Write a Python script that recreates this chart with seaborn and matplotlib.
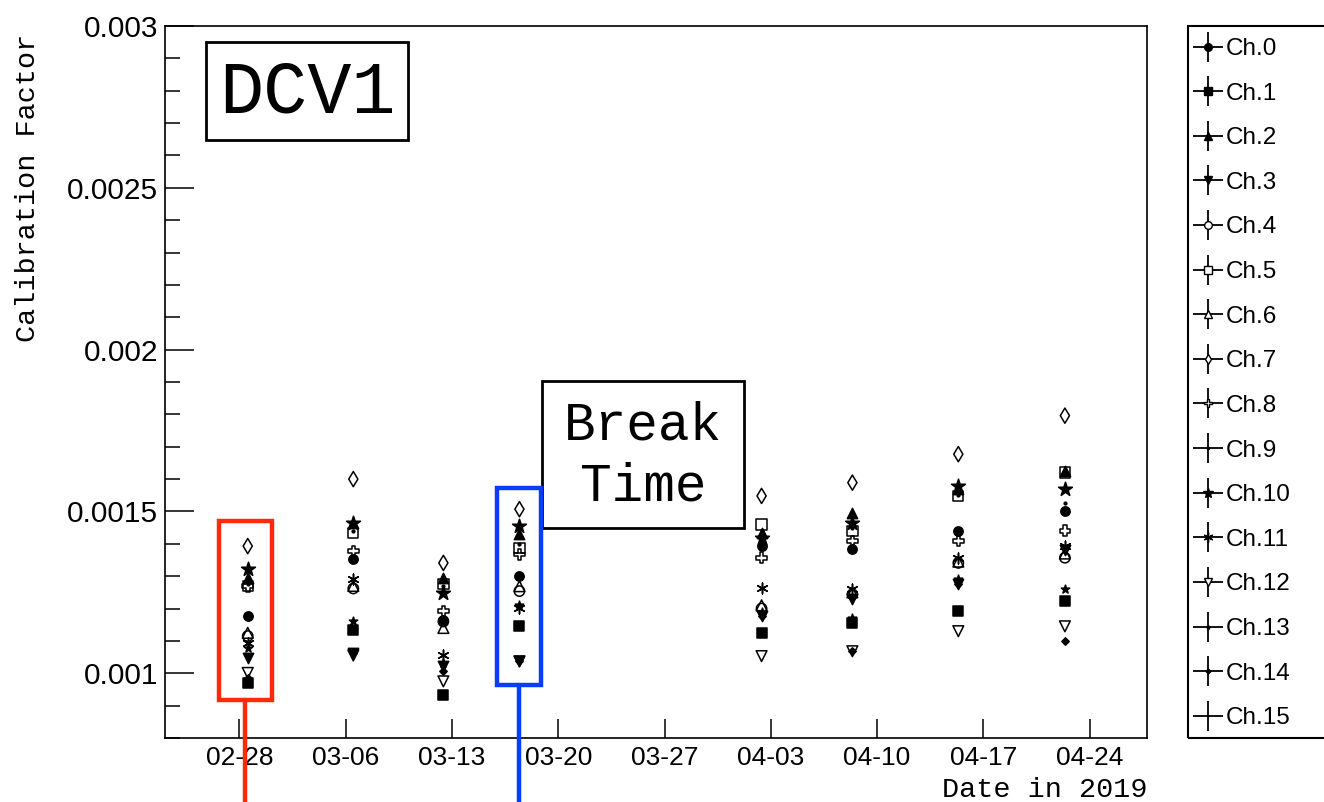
import numpy as np
import pandas as pd
import matplotlib
matplotlib.use("Agg")
import matplotlib.pyplot as plt
import matplotlib.dates as mdates
from matplotlib.lines import Line2D
from matplotlib.patches import Rectangle
from matplotlib.ticker import MultipleLocator, FuncFormatter, FixedLocator
from matplotlib.legend_handler import HandlerTuple
import seaborn as sns

# ---- measurement dates ----
dates = pd.to_datetime([
    "2019-02-28 13:40", "2019-03-07 11:20", "2019-03-13 08:40", "2019-03-18 08:00",
    "2019-04-03 04:00", "2019-04-09 02:30", "2019-04-16 00:45", "2019-04-23 00:00",
])

# ---- calibration factors per channel (one value per date) ----
ch00 = [0.001176, 0.001352, 0.001166, 0.001300, 0.001393, 0.001383, 0.001440, 0.001502]
ch01 = [0.000970, 0.001135, 0.000934, 0.001145, 0.001125, 0.001156, 0.001192, 0.001223]
ch02 = [0.001295, 0.001465, 0.001295, 0.001429, 0.001434, 0.001496, 0.001570, 0.001625]
ch03 = [0.001047, 0.001063, 0.001022, 0.001037, 0.001176, 0.001230, 0.001275, 0.001380]
ch04 = [0.001115, 0.001262, 0.001160, 0.001254, 0.001200, 0.001244, 0.001341, 0.001357]
ch05 = [0.001269, 0.001434, 0.001275, 0.001388, 0.001460, 0.001440, 0.001548, 0.001620]
ch06 = [0.001125, 0.001270, 0.001140, 0.001269, 0.001210, 0.001250, 0.001345, 0.001370]
ch07 = [0.001393, 0.001600, 0.001341, 0.001507, 0.001548, 0.001589, 0.001677, 0.001796]
ch08 = [0.001269, 0.001378, 0.001192, 0.001367, 0.001357, 0.001409, 0.001409, 0.001440]
ch09 = [0.001275, 0.001440, 0.001270, 0.001400, 0.001440, 0.001450, 0.001550, 0.001527]
ch10 = [0.001321, 0.001465, 0.001249, 0.001455, 0.001419, 0.001465, 0.001579, 0.001569]
ch11 = [0.001094, 0.001290, 0.001058, 0.001202, 0.001264, 0.001259, 0.001357, 0.001393]
ch12 = [0.001001, 0.001055, 0.000975, 0.001037, 0.001053, 0.001068, 0.001130, 0.001145]
ch13 = [0.001078, 0.001161, 0.001032, 0.001210, 0.001190, 0.001171, 0.001290, 0.001259]
ch14 = [0.000986, 0.001063, 0.001006, 0.001037, 0.001176, 0.001068, 0.001275, 0.001099]
ch15 = [0.001180, 0.001350, 0.001170, 0.001300, 0.001390, 0.001380, 0.001440, 0.001500]

channel_values = [ch00, ch01, ch02, ch03, ch04, ch05, ch06, ch07,
                  ch08, ch09, ch10, ch11, ch12, ch13, ch14, ch15]
channel_names = [f"Ch.{i}" for i in range(16)]

# time-axis divisions: 8 equal steps starting at the first label
tick_start = pd.Timestamp("2019-02-28 00:30")
tick_step = pd.Timedelta(days=6.95)
n_ticks = 9

# marker, scatter size, filled?, legend marker size
styles = [
    ("o", 45, True, 5.5), ("s", 45, True, 5.5), ("^", 55, True, 5.5), ("v", 55, True, 5.5),
    ("o", 55, False, 5.5), ("s", 55, False, 5.5), ("^", 60, False, 5.5), ("d", 60, False, 5.5),
    ("P", 60, False, 5.5), (".", 15, True, 3), ("*", 110, True, 7), ((6, 2, 0), 60, True, 7),
    ("v", 60, False, 5.5), ("*", 40, True, 3), ("D", 14, True, 2.5), (".", 2, True, 1),
]

df = pd.concat(
    [pd.DataFrame({"date": dates, "value": vals, "channel": name})
     for name, vals in zip(channel_names, channel_values)],
    ignore_index=True,
)

sns.set_style("white")
plt.rcParams["font.family"] = ["Liberation Sans", "DejaVu Sans"]
for key in ("text.color", "axes.labelcolor", "xtick.color", "ytick.color", "axes.edgecolor"):
    plt.rcParams[key] = "black"

W, H = 1324, 802
fig = plt.figure(figsize=(W / 100, H / 100), dpi=100)
ax = fig.add_axes([165 / W, 1 - 738 / H, (1147 - 165) / W, (738 - 26) / H])

for name, (mk, size, filled, _) in zip(channel_names, styles):
    sub = df[df["channel"] == name]
    sns.scatterplot(data=sub, x="date", y="value", marker=mk, s=size,
                    color="black", edgecolor="black", linewidth=1.1,
                    legend=False, ax=ax, zorder=3)
    if not filled:
        ax.collections[-1].set_facecolor("none")

# axes styling
ax.set_xlim(pd.Timestamp("2019-02-23 03:50"), pd.Timestamp("2019-04-28 08:50"))
ax.set_ylim(0.0008, 0.003)
ax.set_xlabel("")
ax.set_ylabel("")
for sp in ax.spines.values():
    sp.set_linewidth(1.2)
    sp.set_color("black")

tick_times = [tick_start + i * tick_step for i in range(n_ticks)]
ax.xaxis.set_major_locator(FixedLocator(mdates.date2num(tick_times)))
ax.xaxis.set_major_formatter(mdates.DateFormatter("%m-%d"))
ax.yaxis.set_major_locator(MultipleLocator(0.0005))
ax.yaxis.set_minor_locator(MultipleLocator(0.0001))
ax.yaxis.set_major_formatter(FuncFormatter(lambda v, p: f"{v:g}"))

ax.tick_params(axis="y", which="major", direction="in", length=21, width=1.1,
               left=True, right=False, labelsize=21.5, pad=5)
ax.tick_params(axis="y", which="minor", direction="in", length=10.5, width=1.1,
               left=True, right=False)
ax.tick_params(axis="x", which="major", direction="in", length=14, width=1.1,
               bottom=True, top=False, labelsize=19, pad=6)
ax.tick_params(axis="x", which="minor", bottom=False, top=False)

mono = "Liberation Mono"
fig.text(28 / W, 1 - 34 / H, "Calibration Factor", rotation=90, ha="center", va="top",
         fontsize=20.5, family=mono)
fig.text(1147 / W, 1 - 797 / H, "Date in 2019", ha="right", va="baseline",
         fontsize=20.5, family=mono)


def px_rect(x0, y0, x1, y1, **kw):
    return Rectangle((x0 / W, 1 - y1 / H), (x1 - x0) / W, (y1 - y0) / H,
                     transform=fig.transFigure, fill=False, **kw)


# title box
fig.patches.append(px_rect(206, 42, 408, 140, lw=2, edgecolor="black", zorder=5))
fig.text(307 / W, 1 - 93 / H, "DCV1", ha="center", va="center", fontsize=53, family=mono,
         zorder=6)

# break-time box
fig.patches.append(px_rect(542, 381, 744, 528, lw=2, edgecolor="black", zorder=5))
fig.text(643 / W, 1 - 456 / H, "Break\nTime", ha="center", va="center", fontsize=38,
         family=mono, linespacing=1.3, zorder=6)

# highlighted clusters with leader lines
red, blue = "#ff2a0a", "#0a3cff"
fig.patches.append(px_rect(219, 521, 272, 700, lw=3.2, edgecolor=red, zorder=5))
fig.lines.append(Line2D([245 / W, 245 / W], [1 - 700 / H, 0], transform=fig.transFigure,
                        color=red, lw=3.2, zorder=5))
fig.patches.append(px_rect(497, 488, 541, 685, lw=3.2, edgecolor=blue, zorder=5))
fig.lines.append(Line2D([519 / W, 519 / W], [1 - 685 / H, 0], transform=fig.transFigure,
                        color=blue, lw=3.2, zorder=5))

# legend: error-bar cross with the channel marker on it
handles = []
for mk, size, filled, lsz in styles:
    cross = Line2D([], [], marker="+", markersize=22, mew=1.3, color="black", linestyle="none")
    mark = Line2D([], [], marker=mk, markersize=lsz, color="black", linestyle="none",
                  markerfacecolor="black" if filled else "white", mew=1.0)
    handles.append((cross, mark))

fig.patches.append(px_rect(1188, 26, 1340, 738, lw=1.5, edgecolor="black"))
fig.legend(handles, channel_names, loc="upper left",
           bbox_to_anchor=(1193 / W, 1 - 38 / H), frameon=False,
           handler_map={tuple: HandlerTuple(ndivide=1)},
           fontsize=17.5, labelspacing=0.93, handlelength=1.2, handletextpad=0.15,
           borderpad=0, borderaxespad=0)

fig.savefig("out.png", dpi=100)
